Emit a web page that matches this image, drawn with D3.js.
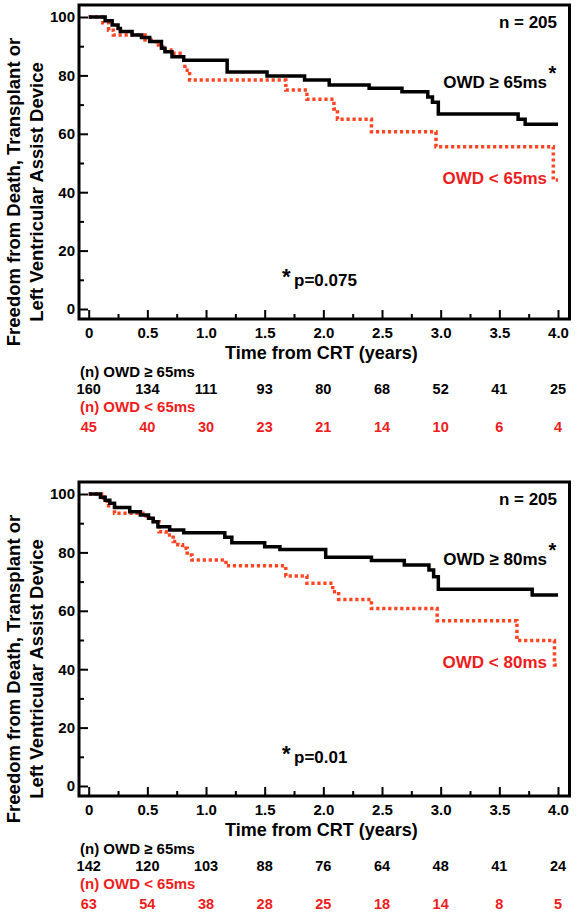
<!DOCTYPE html>
<html>
<head>
<meta charset="utf-8">
<script src="https://cdn.jsdelivr.net/npm/d3@7"></script>
<style>
  html, body { margin: 0; padding: 0; background: #fff; }
  svg { display: block; font-family: "Liberation Sans", Arial, Helvetica, sans-serif; font-weight: bold; }
</style>
</head>
<body>
<svg id="chart" width="577" height="915"></svg>
<script>
// ---------- data ----------
const xTickValues = [0, 0.5, 1, 1.5, 2, 2.5, 3, 3.5, 4];
const xTickLabels = ["0", "0.5", "1.0", "1.5", "2.0", "2.5", "3.0", "3.5", "4.0"];
const yTickValues = [0, 20, 40, 60, 80, 100];
const atRiskTimes = [0, 0.5, 1, 1.5, 2, 2.5, 3, 3.5, 4];

// Top panel: OWD >= 65ms vs < 65ms
const topHighTime = [0, 0.10, 0.14, 0.20, 0.25, 0.27, 0.37, 0.45, 0.52, 0.62, 0.65, 0.71, 0.81, 1.18, 1.52, 1.84, 2.05, 2.39, 2.67, 2.89, 2.93, 2.98, 3.66, 3.72, 4.0];
const topHighSurv = [100, 100, 98.7, 97.3, 96.1, 95.0, 93.8, 93.0, 91.6, 89.3, 88.1, 86.4, 85.2, 81.2, 79.8, 78.4, 76.7, 75.6, 74.4, 72.6, 70.8, 66.8, 65.0, 63.3, 63.3];
const topLowTime = [0, 0.12, 0.17, 0.21, 0.48, 0.57, 0.63, 0.70, 0.80, 0.82, 0.86, 1.68, 1.86, 2.09, 2.12, 2.41, 2.96, 3.96, 4.0];
const topLowSurv = [100, 98.0, 95.5, 93.8, 92.1, 90.4, 88.7, 87.6, 85.8, 81.8, 78.4, 75.0, 71.8, 68.5, 65.0, 60.7, 55.6, 44.2, 44.2];
const topHighN = [160, 134, 111, 93, 80, 68, 52, 41, 25];
const topLowN = [45, 40, 30, 23, 21, 14, 10, 6, 4];

// Bottom panel: OWD >= 80ms vs < 80ms
const botHighTime = [0, 0.10, 0.14, 0.18, 0.22, 0.35, 0.44, 0.51, 0.55, 0.59, 0.69, 0.81, 1.16, 1.22, 1.50, 1.63, 2.02, 2.41, 2.69, 2.90, 2.94, 2.98, 3.78, 4.0];
const botHighSurv = [100, 98.9, 97.9, 96.8, 95.4, 93.9, 92.8, 91.7, 90.5, 88.8, 87.7, 86.7, 85.2, 83.3, 81.9, 81.0, 78.3, 77.2, 75.7, 74.0, 71.7, 67.4, 65.4, 65.4];
const botLowTime = [0, 0.11, 0.13, 0.17, 0.22, 0.49, 0.55, 0.60, 0.66, 0.72, 0.76, 0.80, 0.84, 0.88, 1.17, 1.68, 1.86, 2.08, 2.13, 2.41, 2.97, 3.65, 3.97, 4.0];
const botLowSurv = [100, 99.0, 97.5, 96.0, 93.4, 91.7, 90.5, 87.1, 86.0, 83.7, 82.6, 81.4, 79.1, 77.4, 75.4, 71.9, 69.4, 66.5, 63.9, 60.8, 56.6, 49.8, 41.4, 41.4];
const botHighN = [142, 120, 103, 88, 76, 64, 48, 41, 24];
const botLowN = [63, 54, 38, 28, 25, 18, 14, 8, 5];

const yTitle1 = "Freedom from Death, Transplant or";
const yTitle2 = "Left Ventricular Assist Device";
const xTitle = "Time from CRT (years)";

const panels = [
  { dy: 0, highT: topHighTime, highS: topHighSurv, lowT: topLowTime, lowS: topLowSurv,
    highN: topHighN, lowN: topLowN, highLabel: "OWD \u2265 65ms", lowLabel: "OWD < 65ms",
    pval: "p=0.075", nText: "n = 205", lowLabelY: 184 },
  { dy: 477, highT: botHighTime, highS: botHighSurv, lowT: botLowTime, lowS: botLowSurv,
    highN: botHighN, lowN: botLowN, highLabel: "OWD \u2265 80ms", lowLabel: "OWD < 80ms",
    pval: "p=0.01", nText: "n = 205", lowLabelY: 191 }
];

// ---------- drawing ----------
const svg = d3.select("#chart");
const RED_LINE = "#ff4422";
const RED_TEXT = "#ee1c1c";

const x = d3.scaleLinear().domain([0, 4]).range([88.7, 558]);
const y = d3.scaleLinear().domain([0, 100]).range([309, 17]);

const frame = { left: 79, top: 5, right: 569.5, bottom: 319 };

panels.forEach(p => {
  const g = svg.append("g").attr("transform", `translate(0,${p.dy})`);

  // frame
  g.append("rect")
    .attr("x", frame.left).attr("y", frame.top)
    .attr("width", frame.right - frame.left).attr("height", frame.bottom - frame.top)
    .attr("fill", "none").attr("stroke", "#000").attr("stroke-width", 3);

  // y axis (ticks inward)
  const yAxis = d3.axisLeft(y).tickValues(yTickValues).tickSize(-9).tickPadding(4).tickFormat(d3.format("d"));
  const ya = g.append("g").attr("transform", `translate(${frame.left},0)`).call(yAxis);
  ya.select(".domain").remove();
  ya.selectAll("line").attr("stroke", "#000").attr("stroke-width", 2);
  ya.selectAll("text").attr("font-size", 15).attr("font-weight", "bold").attr("fill", "#000")
    .attr("font-family", "Liberation Sans, Arial, sans-serif");
  const yMinor = d3.axisLeft(y).tickValues([10, 30, 50, 70, 90]).tickSize(-5).tickFormat("");
  const ym = g.append("g").attr("transform", `translate(${frame.left},0)`).call(yMinor);
  ym.select(".domain").remove();
  ym.selectAll("line").attr("stroke", "#000").attr("stroke-width", 2);

  // x axis (ticks upward)
  const xAxis = d3.axisBottom(x).tickValues(xTickValues).tickSize(-9).tickPadding(8)
    .tickFormat((d, i) => xTickLabels[i]);
  const xa = g.append("g").attr("transform", `translate(0,${frame.bottom})`).call(xAxis);
  xa.select(".domain").remove();
  xa.selectAll("line").attr("stroke", "#000").attr("stroke-width", 2);
  xa.selectAll("text").attr("font-size", 15).attr("font-weight", "bold").attr("fill", "#000")
    .attr("font-family", "Liberation Sans, Arial, sans-serif");
  const xMinor = d3.axisBottom(x).tickValues([0.25, 0.75, 1.25, 1.75, 2.25, 2.75, 3.25, 3.75]).tickSize(-5).tickFormat("");
  const xm = g.append("g").attr("transform", `translate(0,${frame.bottom})`).call(xMinor);
  xm.select(".domain").remove();
  xm.selectAll("line").attr("stroke", "#000").attr("stroke-width", 2);

  // curves
  const line = d3.line().x(d => x(d[0])).y(d => y(d[1])).curve(d3.curveStepAfter);
  const lowData = p.lowT.map((t, i) => [t, p.lowS[i]]);
  const highData = p.highT.map((t, i) => [t, p.highS[i]]);
  g.append("path").attr("d", line(lowData)).attr("fill", "none")
    .attr("stroke", RED_LINE).attr("stroke-width", 3.5).attr("stroke-dasharray", "3.2,2.8");
  g.append("path").attr("d", line(highData)).attr("fill", "none")
    .attr("stroke", "#000").attr("stroke-width", 3.5);

  // in-plot labels
  g.append("text").attr("x", 557).attr("y", 28).attr("text-anchor", "end")
    .attr("font-size", 17).text(p.nText);
  g.append("text").attr("x", 547).attr("y", 88).attr("text-anchor", "end")
    .attr("font-size", 17).text(p.highLabel);
  g.append("text").attr("x", 548.5).attr("y", 80).attr("font-size", 20).text("*");
  g.append("text").attr("x", 547).attr("y", p.lowLabelY).attr("text-anchor", "end")
    .attr("font-size", 17).attr("fill", RED_TEXT).text(p.lowLabel);
  g.append("text").attr("x", 282).attr("y", 284).attr("font-size", 22).text("*");
  g.append("text").attr("x", 294).attr("y", 286).attr("font-size", 17).text(p.pval);

  // axis titles
  g.append("text").attr("x", (x(0) + x(4)) / 2 - 2).attr("y", 359).attr("text-anchor", "middle")
    .attr("font-size", 18).text(xTitle);
  const yt = g.append("g").attr("transform", "translate(0,192) rotate(-90)");
  yt.append("text").attr("x", 0).attr("y", 20).attr("text-anchor", "middle").attr("font-size", 18.5).text(yTitle1);
  yt.append("text").attr("x", 0).attr("y", 43).attr("text-anchor", "middle").attr("font-size", 18.5).text(yTitle2);

  // number at risk table
  g.append("text").attr("x", 80).attr("y", 377).attr("font-size", 15).text("(n) OWD \u2265 65ms");
  g.selectAll(".nHigh").data(p.highN).enter().append("text")
    .attr("x", (d, i) => x(atRiskTimes[i])).attr("y", 394).attr("text-anchor", "middle")
    .attr("font-size", 14.5).text(d => d);
  g.append("text").attr("x", 80).attr("y", 412).attr("font-size", 15).attr("fill", RED_TEXT).text("(n) OWD < 65ms");
  g.selectAll(".nLow").data(p.lowN).enter().append("text")
    .attr("x", (d, i) => x(atRiskTimes[i])).attr("y", 432).attr("text-anchor", "middle")
    .attr("font-size", 14.5).attr("fill", RED_TEXT).text(d => d);
});
</script>
</body>
</html>
